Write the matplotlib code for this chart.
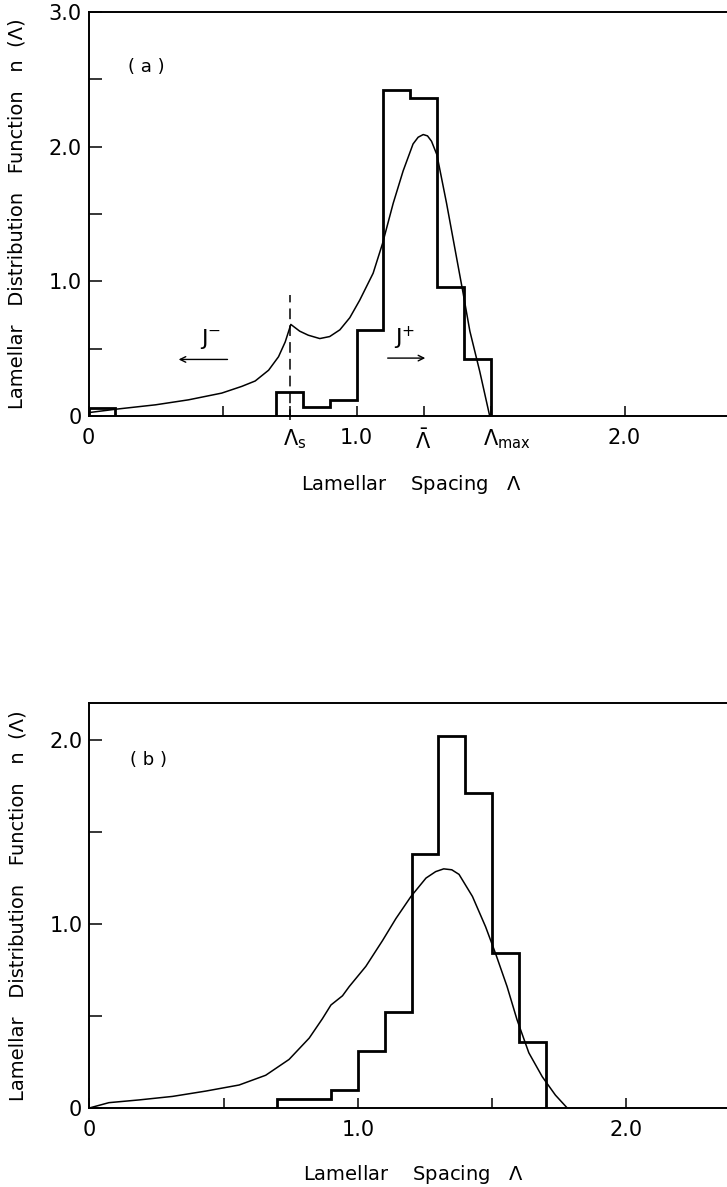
import matplotlib
matplotlib.use("Agg")
import matplotlib.pyplot as plt
from matplotlib import transforms

# ---- panel (a) data ----
hist_a_edges = [0.7, 0.8, 0.9, 1.0, 1.1, 1.2, 1.3, 1.4, 1.5]
hist_a_vals = [0.18, 0.07, 0.12, 0.64, 2.42, 2.36, 0.96, 0.42]
hist_a0_edges = [0.0, 0.1]
hist_a0_vals = [0.06]

curve_a_x = [0.0, 0.1, 0.25, 0.373, 0.497, 0.572, 0.622, 0.672, 0.709, 0.734,
             0.755, 0.788, 0.82, 0.863, 0.90, 0.938, 0.975, 1.012, 1.062, 1.097,
             1.137, 1.174, 1.211, 1.23, 1.249, 1.265, 1.28, 1.30, 1.336, 1.373,
             1.398, 1.423, 1.46, 1.497]
curve_a_y = [0.025, 0.05, 0.083, 0.12, 0.17, 0.22, 0.26, 0.34, 0.44, 0.55,
             0.68, 0.63, 0.60, 0.575, 0.59, 0.64, 0.73, 0.86, 1.06, 1.28,
             1.58, 1.82, 2.02, 2.07, 2.09, 2.08, 2.04, 1.94, 1.58, 1.18,
             0.91, 0.63, 0.33, 0.0]

lam_s = 0.75
lam_bar = 1.25
lam_max = 1.5

# ---- panel (b) data ----
hist_b_edges = [0.7, 0.8, 0.9, 1.0, 1.1, 1.2, 1.3, 1.4, 1.5, 1.6, 1.7]
hist_b_vals = [0.05, 0.05, 0.10, 0.31, 0.52, 1.38, 2.02, 1.71, 0.84, 0.36]

curve_b_x = [0.0, 0.073, 0.186, 0.31, 0.434, 0.558, 0.657, 0.744, 0.819, 0.868,
             0.90, 0.943, 0.968, 1.03, 1.092, 1.142, 1.198, 1.254, 1.29, 1.32,
             1.35, 1.377, 1.427, 1.476, 1.513, 1.556, 1.593, 1.637, 1.687, 1.736,
             1.78]
curve_b_y = [0.0, 0.029, 0.044, 0.063, 0.092, 0.125, 0.178, 0.264, 0.38, 0.485,
             0.56, 0.61, 0.66, 0.77, 0.91, 1.03, 1.15, 1.25, 1.285, 1.30,
             1.295, 1.27, 1.15, 0.985, 0.84, 0.66, 0.48, 0.30, 0.17, 0.07,
             0.0]

plt.rcParams["font.family"] = "DejaVu Sans"
plt.rcParams["mathtext.fontset"] = "dejavusans"

W, H = 727, 1187
fig = plt.figure(figsize=(W / 100, H / 100), dpi=100)

ylabel = "Lamellar   Distribution   Function   n  (Λ)"
xlabel = "Lamellar    Spacing   $\\Lambda$"


def style_axes(ax):
    for s in ["left", "bottom", "top"]:
        ax.spines[s].set_linewidth(1.4)
    ax.spines["right"].set_visible(False)
    ax.tick_params(axis="x", direction="in", length=7, width=1.1, pad=9, labelsize=15)
    ax.tick_params(axis="y", direction="in", length=9, width=1.1, pad=5, labelsize=15)
    ax.tick_params(top=False, right=False)


# ---------------- panel (a) ----------------
ax1 = fig.add_axes([88.5 / W, 1 - 416 / H, (W - 88.5) / W, (416 - 12) / H])
ax1.stairs(hist_a0_vals, hist_a0_edges, color="black", lw=2.0)
ax1.stairs(hist_a_vals, hist_a_edges, color="black", lw=2.0)
ax1.plot(curve_a_x, curve_a_y, color="black", lw=1.1)
ax1.plot([lam_s, lam_s], [-0.03, 0.9], color="black", lw=1.1,
         linestyle=(0, (7, 4)), clip_on=False)

ax1.set_xlim(0, (W - 88.5) / 268)
ax1.set_ylim(0, 3.0)
ax1.set_xticks([0, 0.5, lam_s, 1.0, lam_bar, lam_max, 2.0])
ax1.set_xticklabels(["0", "", "", "1.0", "$\\bar{\\Lambda}$", "", "2.0"])
ax1.set_yticks([0, 0.5, 1.0, 1.5, 2.0, 2.5, 3.0])
ax1.set_yticklabels(["0", "", "1.0", "", "2.0", "", "3.0"])
style_axes(ax1)

trans1 = transforms.blended_transform_factory(ax1.transData, ax1.transAxes)
ax1.text(lam_s - 0.026, -0.028, "$\\Lambda_{\\mathrm{s}}$", transform=trans1,
         ha="left", va="top", fontsize=15)
ax1.text(lam_max - 0.028, -0.028, "$\\Lambda_{\\mathrm{max}}$", transform=trans1,
         ha="left", va="top", fontsize=15)

ax1.text(0.217, 2.59, "( a )", ha="center", va="center", fontsize=13)
ax1.text(0.455, 0.57, "$\\mathrm{J}^{-}$", ha="center", va="center", fontsize=16)
ax1.annotate("", xy=(0.326, 0.42), xytext=(0.529, 0.42),
             arrowprops=dict(arrowstyle="->", color="black", lw=1.0))
ax1.text(1.18, 0.58, "$\\mathrm{J}^{+}$", ha="center", va="center", fontsize=16)
ax1.annotate("", xy=(1.267, 0.43), xytext=(1.106, 0.43),
             arrowprops=dict(arrowstyle="->", color="black", lw=1.0))

ax1.set_ylabel(ylabel, fontsize=14)
ax1.yaxis.set_label_coords(-0.097, 0.5)
ax1.set_xlabel(xlabel, fontsize=14)
ax1.xaxis.set_label_coords(0.505, -0.14)

# ---------------- panel (b) ----------------
ax2 = fig.add_axes([89.3 / W, 1 - 1108 / H, (W - 89.3) / W, (1108 - 703.3) / H])
ax2.stairs(hist_b_vals, hist_b_edges, color="black", lw=2.0)
ax2.plot(curve_b_x, curve_b_y, color="black", lw=1.1)

ax2.set_xlim(0, (W - 89.3) / 268.5)
ax2.set_ylim(0, 2.2)
ax2.set_xticks([0, 0.5, 1.0, 1.5, 2.0])
ax2.set_xticklabels(["0", "", "1.0", "", "2.0"])
ax2.set_yticks([0, 0.5, 1.0, 1.5, 2.0])
ax2.set_yticklabels(["0", "", "1.0", "", "2.0"])
style_axes(ax2)

ax2.text(0.22, 1.89, "( b )", ha="center", va="center", fontsize=13)

ax2.set_ylabel(ylabel, fontsize=14)
ax2.yaxis.set_label_coords(-0.097, 0.5)
ax2.set_xlabel(xlabel, fontsize=14)
ax2.xaxis.set_label_coords(0.508, -0.135)

fig.savefig("out.png", dpi=100)
